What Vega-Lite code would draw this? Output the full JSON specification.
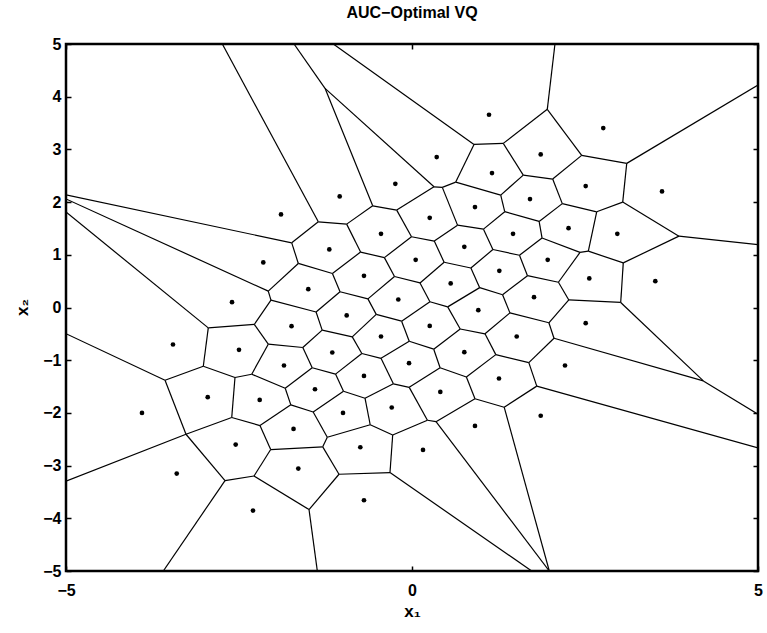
{
  "$schema": "https://vega.github.io/schema/vega-lite/v6.json",
  "width": 692,
  "height": 527,
  "autosize": "none",
  "padding": {"left": 66, "top": 44, "right": 9, "bottom": 62},
  "background": "white",
  "title": {"text": "AUC−Optimal VQ", "font": "Liberation Sans", "fontSize": 16, "fontWeight": "bold", "color": "black", "anchor": "middle", "frame": "group", "baseline": "alphabetic", "offset": 2},
  "datasets": {
    "edges": [
      {"x":-0.743,"y":1.052,"x2":-1.150,"y2":0.646},
      {"x":-0.007,"y":1.343,"x2":-0.399,"y2":0.946},
      {"x":0.658,"y":1.563,"x2":0.322,"y2":1.261},
      {"x":1.340,"y":1.818,"x2":1.033,"y2":1.487},
      {"x":2.172,"y":1.971,"x2":1.837,"y2":1.633},
      {"x":-1.040,"y":0.299,"x2":-1.386,"y2":-0.085},
      {"x":-0.253,"y":0.589,"x2":-0.637,"y2":0.164},
      {"x":0.464,"y":0.859,"x2":0.116,"y2":0.466},
      {"x":1.169,"y":1.100,"x2":0.851,"y2":0.749},
      {"x":1.879,"y":1.320,"x2":1.553,"y2":0.992},
      {"x":-1.298,"y":-0.429,"x2":-1.578,"y2":-0.759},
      {"x":-0.517,"y":-0.130,"x2":-0.863,"y2":-0.558},
      {"x":0.259,"y":0.109,"x2":-0.150,"y2":-0.260},
      {"x":0.978,"y":0.377,"x2":0.516,"y2":0.012},
      {"x":1.669,"y":0.604,"x2":1.309,"y2":0.242},
      {"x":-1.442,"y":-1.144,"x2":-1.832,"y2":-1.532},
      {"x":-0.725,"y":-0.873,"x2":-1.105,"y2":-1.264},
      {"x":-0.040,"y":-0.641,"x2":-0.448,"y2":-0.964},
      {"x":0.697,"y":-0.408,"x2":0.314,"y2":-0.791},
      {"x":1.415,"y":-0.102,"x2":1.055,"y2":-0.499},
      {"x":2.266,"y":0.143,"x2":1.978,"y2":-0.290},
      {"x":-0.990,"y":-1.589,"x2":-1.428,"y2":-1.982},
      {"x":-0.269,"y":-1.448,"x2":-0.679,"y2":-1.721},
      {"x":0.406,"y":-1.144,"x2":-0.040,"y2":-1.515},
      {"x":1.211,"y":-0.894,"x2":0.786,"y2":-1.319},
      {"x":2.052,"y":-0.584,"x2":1.688,"y2":-1.046},
      {"x":0.223,"y":-2.139,"x2":-0.279,"y2":-2.418},
      {"x":0.910,"y":-1.731,"x2":0.347,"y2":-2.166},
      {"x":1.803,"y":-1.492,"x2":1.332,"y2":-1.892},
      {"x":-0.604,"y":-2.225,"x2":-1.224,"y2":-2.462},
      {"x":2.116,"y":0.479,"x2":2.428,"y2":1.045},
      {"x":-1.040,"y":0.299,"x2":-1.150,"y2":0.646},
      {"x":-0.253,"y":0.589,"x2":-0.399,"y2":0.946},
      {"x":0.464,"y":0.859,"x2":0.322,"y2":1.261},
      {"x":1.169,"y":1.100,"x2":1.033,"y2":1.487},
      {"x":1.879,"y":1.320,"x2":1.837,"y2":1.633},
      {"x":-1.298,"y":-0.429,"x2":-1.386,"y2":-0.085},
      {"x":-0.517,"y":-0.130,"x2":-0.637,"y2":0.164},
      {"x":0.259,"y":0.109,"x2":0.116,"y2":0.466},
      {"x":0.978,"y":0.377,"x2":0.851,"y2":0.749},
      {"x":1.669,"y":0.604,"x2":1.553,"y2":0.992},
      {"x":-1.442,"y":-1.144,"x2":-1.578,"y2":-0.759},
      {"x":-0.725,"y":-0.873,"x2":-0.863,"y2":-0.558},
      {"x":-0.040,"y":-0.641,"x2":-0.150,"y2":-0.260},
      {"x":0.697,"y":-0.408,"x2":0.516,"y2":0.012},
      {"x":1.415,"y":-0.102,"x2":1.309,"y2":0.242},
      {"x":2.266,"y":0.143,"x2":2.116,"y2":0.479},
      {"x":-0.990,"y":-1.589,"x2":-1.105,"y2":-1.264},
      {"x":-0.269,"y":-1.448,"x2":-0.448,"y2":-0.964},
      {"x":0.406,"y":-1.144,"x2":0.314,"y2":-0.791},
      {"x":1.211,"y":-0.894,"x2":1.055,"y2":-0.499},
      {"x":2.052,"y":-0.584,"x2":1.978,"y2":-0.290},
      {"x":-0.604,"y":-2.225,"x2":-0.679,"y2":-1.721},
      {"x":0.223,"y":-2.139,"x2":-0.040,"y2":-1.515},
      {"x":0.910,"y":-1.731,"x2":0.786,"y2":-1.319},
      {"x":1.803,"y":-1.492,"x2":1.688,"y2":-1.046},
      {"x":-1.751,"y":-1.847,"x2":-1.832,"y2":-1.532},
      {"x":-1.150,"y":0.646,"x2":-1.643,"y2":0.836},
      {"x":-0.399,"y":0.946,"x2":-0.743,"y2":1.052},
      {"x":0.322,"y":1.261,"x2":-0.007,"y2":1.343},
      {"x":1.033,"y":1.487,"x2":0.658,"y2":1.563},
      {"x":1.837,"y":1.633,"x2":1.340,"y2":1.818},
      {"x":-1.386,"y":-0.085,"x2":-2.038,"y2":0.139},
      {"x":-0.637,"y":0.164,"x2":-1.040,"y2":0.299},
      {"x":0.116,"y":0.466,"x2":-0.253,"y2":0.589},
      {"x":0.851,"y":0.749,"x2":0.464,"y2":0.859},
      {"x":1.553,"y":0.992,"x2":1.169,"y2":1.100},
      {"x":-1.578,"y":-0.759,"x2":-2.077,"y2":-0.696},
      {"x":-0.863,"y":-0.558,"x2":-1.298,"y2":-0.429},
      {"x":-0.150,"y":-0.260,"x2":-0.517,"y2":-0.130},
      {"x":0.516,"y":0.012,"x2":0.259,"y2":0.109},
      {"x":1.309,"y":0.242,"x2":0.978,"y2":0.377},
      {"x":2.116,"y":0.479,"x2":1.669,"y2":0.604},
      {"x":-1.832,"y":-1.532,"x2":-2.316,"y2":-1.266},
      {"x":-1.105,"y":-1.264,"x2":-1.442,"y2":-1.144},
      {"x":-0.448,"y":-0.964,"x2":-0.725,"y2":-0.873},
      {"x":0.314,"y":-0.791,"x2":-0.040,"y2":-0.641},
      {"x":1.055,"y":-0.499,"x2":0.697,"y2":-0.408},
      {"x":1.978,"y":-0.290,"x2":1.415,"y2":-0.102},
      {"x":-1.428,"y":-1.982,"x2":-1.751,"y2":-1.847},
      {"x":-0.679,"y":-1.721,"x2":-0.990,"y2":-1.589},
      {"x":-0.040,"y":-1.515,"x2":-0.269,"y2":-1.448},
      {"x":0.786,"y":-1.319,"x2":0.406,"y2":-1.144},
      {"x":1.688,"y":-1.046,"x2":1.211,"y2":-0.894},
      {"x":-0.279,"y":-2.418,"x2":-0.604,"y2":-2.225},
      {"x":0.347,"y":-2.166,"x2":0.223,"y2":-2.139},
      {"x":1.332,"y":-1.892,"x2":0.910,"y2":-1.731},
      {"x":-1.224,"y":-2.462,"x2":-1.428,"y2":-1.982},
      {"x":-1.224,"y":-2.462,"x2":-1.290,"y2":-2.644},
      {"x":-1.290,"y":-2.644,"x2":-2.042,"y2":-2.695},
      {"x":-1.290,"y":-2.644,"x2":-1.055,"y2":-3.164},
      {"x":-1.055,"y":-3.164,"x2":-1.488,"y2":-3.835},
      {"x":-1.055,"y":-3.164,"x2":-0.318,"y2":-3.132},
      {"x":-0.318,"y":-3.132,"x2":-0.279,"y2":-2.418},
      {"x":-0.318,"y":-3.132,"x2":1.730,"y2":-5},
      {"x":-1.488,"y":-3.835,"x2":-2.283,"y2":-3.197},
      {"x":-1.488,"y":-3.835,"x2":-1.368,"y2":-5},
      {"x":-2.283,"y":-3.197,"x2":-2.042,"y2":-2.695},
      {"x":-2.283,"y":-3.197,"x2":-2.702,"y2":-3.284},
      {"x":-2.702,"y":-3.284,"x2":-3.594,"y2":-5},
      {"x":-2.702,"y":-3.284,"x2":-3.266,"y2":-2.405},
      {"x":-3.266,"y":-2.405,"x2":-5,"y2":-3.294},
      {"x":-3.266,"y":-2.405,"x2":-2.605,"y2":-2.088},
      {"x":-3.266,"y":-2.405,"x2":-3.569,"y2":-1.380},
      {"x":-2.605,"y":-2.088,"x2":-2.197,"y2":-2.240},
      {"x":-2.197,"y":-2.240,"x2":-2.042,"y2":-2.695},
      {"x":-2.197,"y":-2.240,"x2":-1.751,"y2":-1.847},
      {"x":-2.605,"y":-2.088,"x2":-2.558,"y2":-1.328},
      {"x":-2.558,"y":-1.328,"x2":-2.316,"y2":-1.266},
      {"x":-2.558,"y":-1.328,"x2":-3.016,"y2":-1.114},
      {"x":-3.016,"y":-1.114,"x2":-3.569,"y2":-1.380},
      {"x":-3.569,"y":-1.380,"x2":-5,"y2":-0.497},
      {"x":-3.016,"y":-1.114,"x2":-2.944,"y2":-0.387},
      {"x":-2.944,"y":-0.387,"x2":-5,"y2":1.812},
      {"x":-2.944,"y":-0.387,"x2":-2.279,"y2":-0.322},
      {"x":-2.279,"y":-0.322,"x2":-2.038,"y2":0.139},
      {"x":-2.279,"y":-0.322,"x2":-2.077,"y2":-0.696},
      {"x":-2.077,"y":-0.696,"x2":-2.316,"y2":-1.266},
      {"x":-2.038,"y":0.139,"x2":-2.077,"y2":0.310},
      {"x":-2.077,"y":0.310,"x2":-5,"y2":2.060},
      {"x":-2.077,"y":0.310,"x2":-1.643,"y2":0.836},
      {"x":-1.643,"y":0.836,"x2":-1.738,"y2":1.227},
      {"x":-1.738,"y":1.227,"x2":-5,"y2":2.137},
      {"x":-1.738,"y":1.227,"x2":-1.354,"y2":1.626},
      {"x":-1.354,"y":1.626,"x2":-2.741,"y2":5},
      {"x":-1.354,"y":1.626,"x2":-0.944,"y2":1.582},
      {"x":-0.944,"y":1.582,"x2":-0.743,"y2":1.052},
      {"x":-0.944,"y":1.582,"x2":-0.568,"y2":1.930},
      {"x":-0.568,"y":1.930,"x2":-0.221,"y2":1.848},
      {"x":-0.221,"y":1.848,"x2":-0.007,"y2":1.343},
      {"x":-0.568,"y":1.930,"x2":-1.257,"y2":4.159},
      {"x":-1.257,"y":4.159,"x2":-1.705,"y2":5},
      {"x":-1.257,"y":4.159,"x2":0.318,"y2":2.290},
      {"x":0.318,"y":2.290,"x2":-0.221,"y2":1.848},
      {"x":0.318,"y":2.290,"x2":0.438,"y2":2.279},
      {"x":0.438,"y":2.279,"x2":0.658,"y2":1.563},
      {"x":0.438,"y":2.279,"x2":0.632,"y2":2.380},
      {"x":0.632,"y":2.380,"x2":0.896,"y2":3.095},
      {"x":0.896,"y":3.095,"x2":-1.137,"y2":5},
      {"x":0.896,"y":3.095,"x2":1.319,"y2":3.114},
      {"x":1.319,"y":3.114,"x2":1.955,"y2":3.760},
      {"x":1.955,"y":3.760,"x2":2.066,"y2":5},
      {"x":1.955,"y":3.760,"x2":2.452,"y2":2.886},
      {"x":1.319,"y":3.114,"x2":1.608,"y2":2.512},
      {"x":0.632,"y":2.380,"x2":1.282,"y2":2.133},
      {"x":1.608,"y":2.512,"x2":1.282,"y2":2.133},
      {"x":1.282,"y":2.133,"x2":1.340,"y2":1.818},
      {"x":1.608,"y":2.512,"x2":2.033,"y2":2.437},
      {"x":2.033,"y":2.437,"x2":2.452,"y2":2.886},
      {"x":2.033,"y":2.437,"x2":2.172,"y2":1.971},
      {"x":2.452,"y":2.886,"x2":3.103,"y2":2.735},
      {"x":3.103,"y":2.735,"x2":5,"y2":4.221},
      {"x":3.103,"y":2.735,"x2":3.045,"y2":2.000},
      {"x":3.045,"y":2.000,"x2":2.669,"y2":1.816},
      {"x":2.669,"y":1.816,"x2":2.172,"y2":1.971},
      {"x":2.669,"y":1.816,"x2":2.548,"y2":1.069},
      {"x":3.045,"y":2.000,"x2":3.858,"y2":1.354},
      {"x":3.858,"y":1.354,"x2":5,"y2":1.193},
      {"x":3.858,"y":1.354,"x2":3.053,"y2":0.847},
      {"x":3.053,"y":0.847,"x2":2.548,"y2":1.069},
      {"x":2.548,"y":1.069,"x2":2.428,"y2":1.045},
      {"x":2.428,"y":1.045,"x2":1.879,"y2":1.320},
      {"x":3.053,"y":0.847,"x2":3.016,"y2":0.096},
      {"x":3.016,"y":0.096,"x2":2.266,"y2":0.143},
      {"x":3.016,"y":0.096,"x2":4.210,"y2":-1.393},
      {"x":4.210,"y":-1.393,"x2":2.052,"y2":-0.584},
      {"x":4.210,"y":-1.393,"x2":5,"y2":-2.027},
      {"x":1.803,"y":-1.492,"x2":5,"y2":-2.664},
      {"x":0.347,"y":-2.166,"x2":1.984,"y2":-5},
      {"x":1.332,"y":-1.892,"x2":1.984,"y2":-5}
    ],
    "pts": [
      {"x":1.113,"y":3.657},{"x":2.764,"y":3.405},{"x":0.357,"y":2.854},{"x":1.860,"y":2.905},
      {"x":1.156,"y":2.550},{"x":-0.241,"y":2.347},{"x":2.510,"y":2.304},{"x":3.613,"y":2.203},
      {"x":-1.045,"y":2.108},{"x":1.705,"y":2.057},{"x":0.910,"y":1.905},{"x":-1.893,"y":1.766},
      {"x":0.256,"y":1.702},{"x":2.262,"y":1.506},{"x":-0.448,"y":1.398},{"x":1.460,"y":1.398},
      {"x":2.967,"y":1.398},{"x":0.756,"y":1.151},{"x":-1.195,"y":1.102},{"x":0.053,"y":0.904},
      {"x":1.961,"y":0.904},{"x":-2.149,"y":0.855},{"x":1.262,"y":0.695},{"x":-0.694,"y":0.601},
      {"x":2.562,"y":0.551},{"x":3.516,"y":0.500},{"x":0.559,"y":0.456},{"x":-1.499,"y":0.348},
      {"x":1.763,"y":0.196},{"x":-0.198,"y":0.152},{"x":-2.601,"y":0.101},{"x":0.958,"y":-0.051},
      {"x":-0.944,"y":-0.151},{"x":2.510,"y":-0.298},{"x":0.256,"y":-0.349},{"x":-1.741,"y":-0.354},
      {"x":1.513,"y":-0.550},{"x":-0.448,"y":-0.550},{"x":-3.454,"y":-0.702},{"x":-2.500,"y":-0.804},
      {"x":-1.152,"y":-0.854},{"x":0.756,"y":-0.848},{"x":-0.043,"y":-1.057},{"x":-1.850,"y":-1.101},
      {"x":2.211,"y":-1.101},{"x":-0.694,"y":-1.298},{"x":1.257,"y":-1.347},{"x":-1.402,"y":-1.551},
      {"x":-2.952,"y":-1.702},{"x":0.409,"y":-1.602},{"x":-2.201,"y":-1.754},{"x":-0.293,"y":-1.898},
      {"x":-0.997,"y":-2.001},{"x":-3.902,"y":-2.001},{"x":1.860,"y":-2.054},{"x":0.910,"y":-2.247},
      {"x":-1.712,"y":-2.304},{"x":-2.548,"y":-2.601},{"x":-0.747,"y":-2.652},{"x":0.159,"y":-2.703},
      {"x":-1.643,"y":-3.056},{"x":-3.400,"y":-3.151},{"x":-0.694,"y":-3.658},{"x":-2.298,"y":-3.854}
    ]
  },
  "layer": [
    {
      "data": {"name": "edges"},
      "mark": {"type": "rule", "stroke": "black", "strokeWidth": 1.2, "clip": true},
      "encoding": {
        "x": {"field": "x", "type": "quantitative", "scale": {"domain": [-5, 5], "nice": false, "zero": false},
              "axis": {"orient": "bottom", "values": [-5, 0, 5], "format": "d", "title": "x₁", "labelPadding": 16, "titleY": 45, "titleBaseline": "alphabetic", "titleFontSize": 17}},
        "y": {"field": "y", "type": "quantitative", "scale": {"domain": [-5, 5], "nice": false, "zero": false},
              "axis": {"orient": "left", "values": [-5, -4, -3, -2, -1, 0, 1, 2, 3, 4, 5], "format": "d", "title": "x₂", "labelPadding": 10, "titleX": -39, "titleY": 263, "titleAngle": -90, "titleBaseline": "alphabetic", "titleAlign": "center", "titleFontSize": 17}},
        "x2": {"field": "x2"},
        "y2": {"field": "y2"}
      }
    },
    {
      "data": {"name": "pts"},
      "mark": {"type": "circle", "color": "black", "size": 22, "opacity": 1},
      "encoding": {
        "x": {"field": "x", "type": "quantitative", "axis": {"orient": "top", "values": [-5, 0, 5], "labels": false, "title": null}},
        "y": {"field": "y", "type": "quantitative", "axis": {"orient": "right", "values": [-5, -4, -3, -2, -1, 0, 1, 2, 3, 4, 5], "labels": false, "title": null}}
      }
    }
  ],
  "config": {
    "view": {"stroke": "black", "strokeWidth": 2.5},
    "axis": {"grid": false, "domain": false, "ticks": true, "tickColor": "black", "tickWidth": 1.5, "tickSize": -5,
             "labelFont": "Liberation Sans", "labelFontSize": 16, "labelFontWeight": "bold", "labelColor": "black",
             "labelFlush": false, "labelOverlap": false,
             "titleFont": "Liberation Sans", "titleFontSize": 16, "titleFontWeight": "bold", "titleColor": "black"}
  }
}
